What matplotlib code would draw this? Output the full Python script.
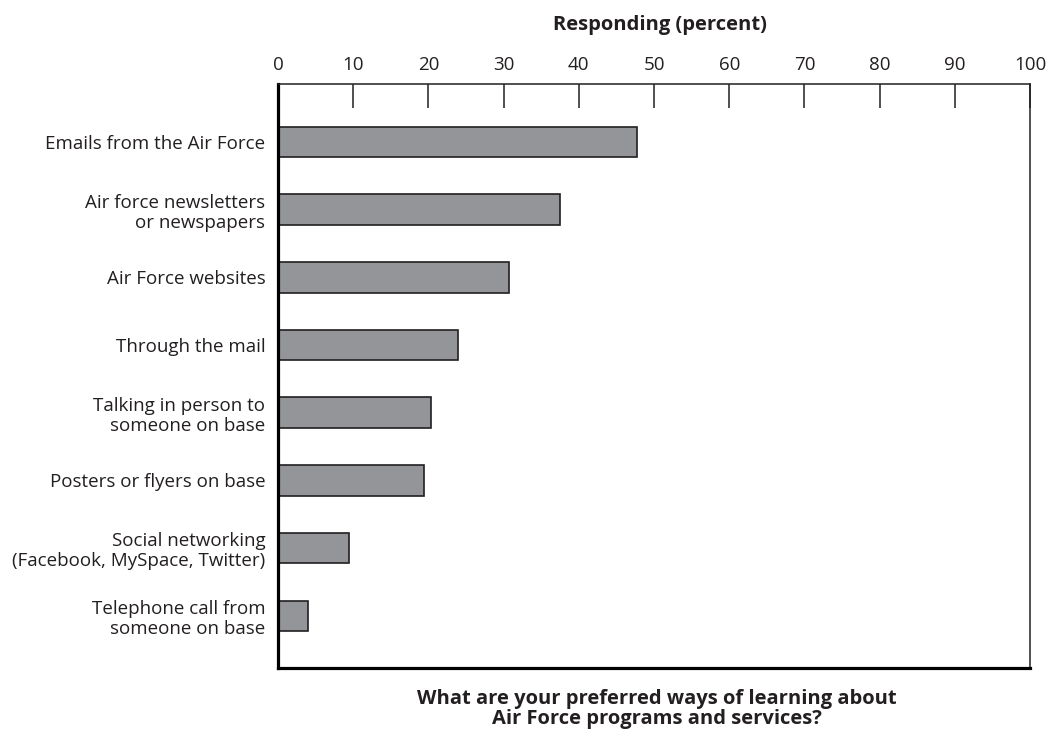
import matplotlib.pyplot as plt

# Survey data
categories = [
    "Emails from the Air Force",
    "Air force newsletters\nor newspapers",
    "Air Force websites",
    "Through the mail",
    "Talking in person to\nsomeone on base",
    "Posters or flyers on base",
    "Social networking\n(Facebook, MySpace, Twitter)",
    "Telephone call from\nsomeone on base",
]
values = [47.8, 37.5, 30.7, 24.0, 20.4, 19.4, 9.4, 4.0]
xticks = [0, 10, 20, 30, 40, 50, 60, 70, 80, 90, 100]

plt.rcParams['font.family'] = ['Open Sans', 'DejaVu Sans']
txt = '#231f20'

fig = plt.figure(figsize=(10.47, 7.31), dpi=100)
ax = fig.add_axes([0.2655, 0.0862, 0.9838 - 0.2655, 0.8851 - 0.0862])

pos = list(range(len(categories)))
ax.barh(pos, values, height=0.45, color='#939598', edgecolor=txt, linewidth=1.2)

ax.set_xlim(0, 100)
ax.set_ylim(len(categories) - 1 + 0.77, -0.855)
ax.set_yticks(pos)
ax.set_yticklabels(categories, fontsize=13.5, color=txt, ha='right', linespacing=1.15)
ax.tick_params(axis='y', length=0, pad=9)

ax.xaxis.tick_top()
ax.set_xticks(xticks)
ax.set_xticklabels([str(t) for t in xticks], fontsize=13.5, color=txt)
ax.tick_params(axis='x', direction='in', length=17, width=1.1, color=txt, pad=7)

for s in ['left', 'bottom']:
    ax.spines[s].set_linewidth(2.3)
    ax.spines[s].set_color('black')
for s in ['top', 'right']:
    ax.spines[s].set_linewidth(1.1)
    ax.spines[s].set_color(txt)

fig.text(660 / 1047, 1 - 25 / 731, "Responding (percent)", ha='center', va='center',
         fontsize=14.5, fontweight='bold', color=txt)
fig.text(657 / 1047, 1 - 709 / 731, "What are your preferred ways of learning about\nAir Force programs and services?",
         ha='center', va='center', fontsize=14.5, fontweight='bold', color=txt, linespacing=1.0)

fig.savefig('out.png', dpi=100)
